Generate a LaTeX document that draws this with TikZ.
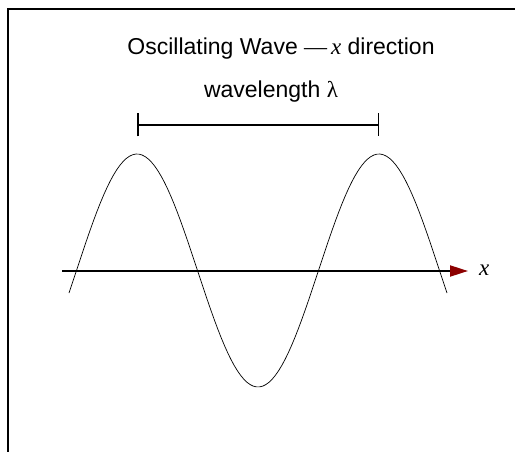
\documentclass[tikz,border=0pt]{standalone}
\usepackage{fontspec}
\setmainfont{Liberation Sans}
\newfontfamily\wavserif{Liberation Serif}
\usetikzlibrary{arrows.meta}

\begin{document}
\begin{tikzpicture}[x=1pt,y=-1pt,>=Latex,
  labeltext/.style={font=\fontsize{23}{26}\selectfont,inner sep=0pt}]
  \useasboundingbox (0,0) rectangle (515,452);
  \draw[line width=2.5] (8,452) -- (8,9) -- (515,9);
  \node[labeltext,anchor=base] (title) at (281,55) {Oscillating Wave {\wavserif —\,\itshape x} direction};
  \node[labeltext,anchor=base] (wlen) at (271,98) {wavelength {\wavserif λ}};
  \coordinate (lamL) at (137,125);
  \coordinate (lamR) at (379,125);
  \draw[line width=1.5,{Bar[width=23]}-{Bar[width=23]}] (lamL) -- (lamR);
  \draw[line width=0.7] plot[domain=69:447,samples=120] (\x,{270.5-116.5*cos(1.48760*(\x-137))});
  \coordinate (xstart) at (62,271);
  \coordinate (xend) at (468,271);
  \draw[line width=2,-{Triangle[length=18,width=11,color=red!55!black]}] (xstart) -- (xend);
  \node[labeltext,anchor=base west,font=\wavserif\itshape\fontsize{23}{26}\selectfont] (xlab) at (479,275) {x};
\end{tikzpicture}
\end{document}
